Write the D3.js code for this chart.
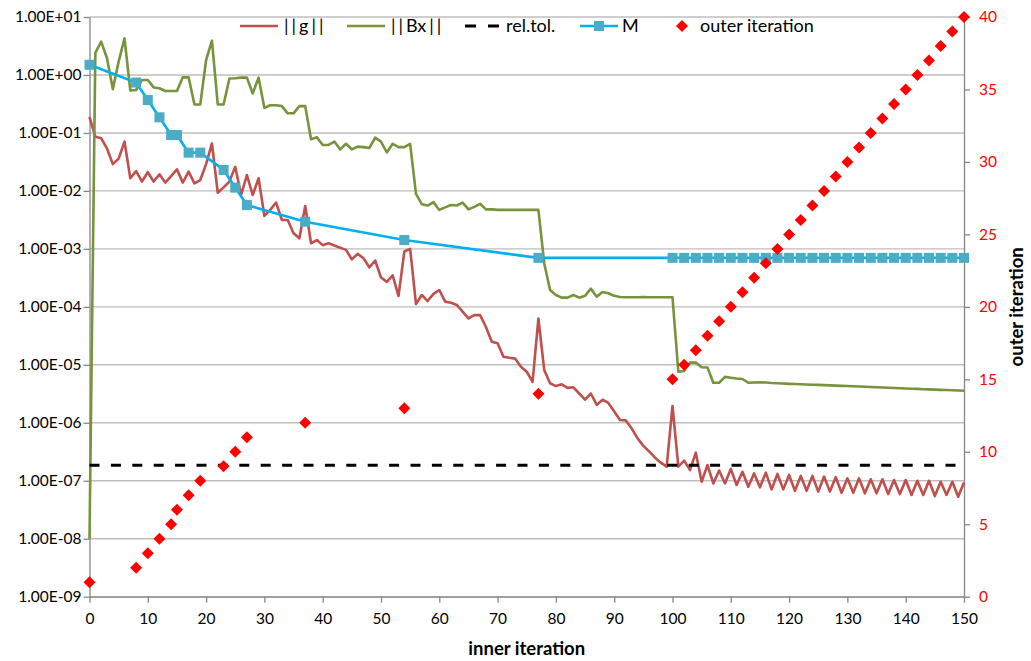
<!DOCTYPE html>
<html>
<head>
<meta charset="utf-8">
<script src="https://cdn.jsdelivr.net/npm/d3@7/dist/d3.min.js"></script>
<style>
  body { margin: 0; background: #fff; }
  svg text { font-family: Lato, "Open Sans", sans-serif; }
</style>
</head>
<body>
<div id="chart"></div>
<script>
// ||g|| per inner iteration 0..150
const gNorm = [
  0.19, 0.086, 0.081, 0.054, 0.029, 0.036, 0.071, 0.0165, 0.022, 0.0145,
  0.021, 0.0145, 0.0193, 0.0139, 0.018, 0.0236, 0.0139, 0.0215, 0.0135, 0.0154,
  0.029, 0.066, 0.0093, 0.0115, 0.0145, 0.026, 0.0085, 0.0188, 0.0085, 0.0165,
  0.0037, 0.0047, 0.0063, 0.00315, 0.00315, 0.00186, 0.00152, 0.0055, 0.00125, 0.00142,
  0.00116, 0.00125, 0.00114, 0.00105, 0.00096, 0.00066, 0.00082, 0.00069, 0.00048, 0.00063,
  0.00032, 0.00027, 0.00035, 0.000154, 0.0009, 0.001, 0.000112, 0.00016, 0.000126, 0.000167,
  0.000195, 0.000123, 0.000118, 0.000108, 8.3e-5, 6.3e-5, 7.2e-5, 7.2e-5, 4.5e-5, 2.5e-5,
  2.35e-5, 1.38e-5, 1.32e-5, 1.28e-5, 9.3e-6, 7.6e-6, 5.1e-6, 6.3e-5, 8.1e-6, 4.8e-6,
  4.3e-6, 4.6e-6, 4.0e-6, 4.1e-6, 3.2e-6, 2.5e-6, 3.2e-6, 2.03e-6, 2.5e-6, 2.2e-6,
  1.56e-6, 1.12e-6, 1.1e-6, 8e-7, 5.4e-7, 4e-7, 3.2e-7, 2.5e-7, 2.05e-7, 1.75e-7,
  1.95e-6, 1.75e-7, 2.22e-7, 1.53e-7, 3.05e-7, 9.6e-8, 1.87e-7, 9.0e-8, 1.5e-7, 9.0e-8,
  1.6e-7, 8.45e-8, 1.43e-7, 7.9e-8, 1.34e-7, 7.7e-8, 1.38e-7, 7.1e-8, 1.31e-7, 7.1e-8,
  1.26e-7, 6.7e-8, 1.21e-7, 6.7e-8, 1.21e-7, 6.5e-8, 1.18e-7, 6.5e-8, 1.15e-7, 6.2e-8,
  1.1e-7, 6.2e-8, 1.1e-7, 6.07e-8, 1.06e-7, 6.07e-8, 1.06e-7, 5.9e-8, 1.03e-7, 5.9e-8,
  1.03e-7, 5.7e-8, 1.0e-7, 5.7e-8, 1.0e-7, 5.45e-8, 9.6e-8, 5.7e-8, 9.6e-8, 5.3e-8,
  9.3e-8
]

// ||Bx|| per inner iteration 0..150
const bxNorm = [
  1e-8, 2.4, 3.75, 1.94, 0.57, 1.7, 4.3, 0.54, 0.55, 0.82,
  0.82, 0.61, 0.59, 0.53, 0.53, 0.53, 0.91, 0.91, 0.31, 0.31,
  1.81, 3.9, 0.31, 0.31, 0.87, 0.88, 0.9, 0.9, 0.48, 0.9,
  0.27, 0.3, 0.3, 0.29, 0.218, 0.218, 0.29, 0.29, 0.078, 0.084,
  0.062, 0.062, 0.071, 0.052, 0.065, 0.052, 0.058, 0.057, 0.055, 0.083,
  0.071, 0.046, 0.065, 0.057, 0.057, 0.065, 0.0089, 0.0059, 0.0056, 0.0064,
  0.0047, 0.0052, 0.0057, 0.0056, 0.0063, 0.0048, 0.0053, 0.006, 0.0048, 0.0048,
  0.0047, 0.0047, 0.0047, 0.0047, 0.0047, 0.0047, 0.0047, 0.0047, 0.00056, 0.000195,
  0.00016, 0.000144, 0.000144, 0.00016, 0.000144, 0.000155, 0.000206, 0.00015, 0.00018, 0.000172,
  0.000155, 0.000148, 0.000146, 0.000146, 0.000146, 0.000147, 0.000146, 0.000146, 0.000146, 0.000146,
  0.000146, 7.6e-6, 7.8e-6, 1.09e-5, 1.09e-5, 9.1e-6, 9.0e-6, 4.9e-6, 4.9e-6, 6.2e-6,
  6.0e-6, 5.8e-6, 5.7e-6, 4.9e-6, 4.95e-6, 5.0e-6, 4.95e-6, 4.85e-6, 4.8e-6, 4.75e-6,
  4.7e-6, 4.66e-6, 4.62e-6, 4.58e-6, 4.54e-6, 4.5e-6, 4.46e-6, 4.42e-6, 4.38e-6, 4.34e-6,
  4.3e-6, 4.26e-6, 4.22e-6, 4.18e-6, 4.14e-6, 4.1e-6, 4.06e-6, 4.02e-6, 3.98e-6, 3.95e-6,
  3.91e-6, 3.87e-6, 3.84e-6, 3.8e-6, 3.77e-6, 3.73e-6, 3.7e-6, 3.67e-6, 3.64e-6, 3.6e-6,
  3.57e-6
]

const relTol = 1.85e-7

// inner iteration at which each outer iteration starts
const outerX = [0, 8, 10, 12, 14, 15, 17, 19, 23, 25, 27, 37, 54, 77, 100,
  102, 104, 106, 108, 110, 112, 114, 116, 118, 120, 122, 124, 126, 128, 130,
  132, 134, 136, 138, 140, 142, 144, 146, 148, 150]
const outerIter = [1, 2, 3, 4, 5, 6, 7, 8, 9, 10, 11, 12, 13, 14, 15, 16, 17, 18, 19, 20,
  21, 22, 23, 24, 25, 26, 27, 28, 29, 30, 31, 32, 33, 34, 35, 36, 37, 38, 39, 40]
const mValues = [1.5, 0.74, 0.37, 0.186, 0.092, 0.092, 0.0457, 0.0457, 0.023, 0.0114,
  0.0057, 0.00294, 0.00142, 0.0007, 0.0007, 0.0007, 0.0007, 0.0007, 0.0007, 0.0007,
  0.0007, 0.0007, 0.0007, 0.0007, 0.0007, 0.0007, 0.0007, 0.0007, 0.0007, 0.0007,
  0.0007, 0.0007, 0.0007, 0.0007, 0.0007, 0.0007, 0.0007, 0.0007, 0.0007, 0.0007]

const logTicks = [1e-9, 1e-8, 1e-7, 1e-6, 1e-5, 1e-4, 1e-3, 1e-2, 1e-1, 1e0, 1e1]
const rightTicks = [0, 5, 10, 15, 20, 25, 30, 35, 40]
const xTicks = [0, 10, 20, 30, 40, 50, 60, 70, 80, 90, 100, 110, 120, 130, 140, 150]

// layout
const width = 1031, height = 661
const plotL = 89.5, plotR = 964, plotT = 17, plotB = 596.7

const x = d3.scaleLinear().domain([0, 150]).range([plotL, plotR])
const y = d3.scaleLog().domain([1e-9, 1e1]).range([plotB, plotT])
const y2 = d3.scaleLinear().domain([0, 40]).range([plotB, plotT])

const axisGrey = '#868686'
const fmtExp = d => {
  const e = Math.round(Math.log10(d))
  return '1.00E' + (e < 0 ? '-' : '+') + String(Math.abs(e)).padStart(2, '0')
}

const svg = d3.select('#chart').append('svg')
  .attr('width', width)
  .attr('height', height)

// gridlines
svg.append('g').attr('class', 'grid')
  .selectAll('line')
  .data(logTicks).enter()
  .append('line')
  .attr('x1', plotL).attr('x2', plotR)
  .attr('y1', d => y(d)).attr('y2', d => y(d))
  .attr('stroke', '#bebebe')
  .attr('stroke-width', 1.4)

// axes
const styleAxis = (g, color) => {
  g.select('.domain').attr('stroke', axisGrey).attr('stroke-width', 1.3)
  g.selectAll('.tick line').attr('stroke', axisGrey).attr('stroke-width', 1.3)
  g.selectAll('.tick text').attr('fill', color).style('font-size', '15.5px')
}

svg.append('g')
  .attr('transform', `translate(${plotL},0)`)
  .call(d3.axisLeft(y).tickValues(logTicks).tickFormat(fmtExp).tickSize(6).tickSizeOuter(0).tickPadding(2))
  .call(g => styleAxis(g, '#000'))

svg.append('g')
  .attr('transform', `translate(${plotR},0)`)
  .call(d3.axisRight(y2).tickValues(rightTicks).tickSize(6).tickSizeOuter(0).tickPadding(9))
  .call(g => styleAxis(g, '#ff0000'))

svg.append('g')
  .attr('transform', `translate(0,${plotB})`)
  .call(d3.axisBottom(x).tickValues(xTicks).tickSize(6).tickSizeOuter(0).tickPadding(10))
  .call(g => styleAxis(g, '#000'))

// axis titles
svg.append('text')
  .attr('x', (plotL + plotR) / 2).attr('y', 655)
  .attr('text-anchor', 'middle')
  .style('font-size', '18.5px').style('font-weight', 'bold')
  .text('inner iteration')

svg.append('text')
  .attr('transform', `translate(1023,${(plotT + plotB) / 2}) rotate(-90)`)
  .attr('text-anchor', 'middle')
  .style('font-size', '18.5px').style('font-weight', 'bold')
  .text('outer iteration')

// series
const line = d3.line().x((d, i) => x(i)).y(d => y(d))

svg.append('path')
  .datum(gNorm)
  .attr('d', line)
  .attr('fill', 'none')
  .attr('stroke', '#c0504d')
  .attr('stroke-width', 2.6)
  .attr('stroke-linejoin', 'round')

svg.append('path')
  .datum(bxNorm)
  .attr('d', line)
  .attr('fill', 'none')
  .attr('stroke', '#77933c')
  .attr('stroke-width', 2.6)
  .attr('stroke-linejoin', 'round')

svg.append('line')
  .attr('x1', x(0)).attr('x2', x(150))
  .attr('y1', y(relTol)).attr('y2', y(relTol))
  .attr('stroke', '#000')
  .attr('stroke-width', 3.2)
  .attr('stroke-dasharray', '10,11.4')

const mPts = outerX.map((d, i) => [d, mValues[i]])
svg.append('path')
  .datum(mPts)
  .attr('d', d3.line().x(d => x(d[0])).y(d => y(d[1])))
  .attr('fill', 'none')
  .attr('stroke', '#00b0f0')
  .attr('stroke-width', 2.6)

svg.append('g').selectAll('rect')
  .data(mPts).enter()
  .append('rect')
  .attr('x', d => x(d[0]) - 5)
  .attr('y', d => y(d[1]) - 5)
  .attr('width', 10).attr('height', 10)
  .attr('fill', '#4bacc6')

const diamond = d3.symbol().type(d3.symbolSquare).size(72)
svg.append('g').selectAll('path')
  .data(outerX.map((d, i) => [d, outerIter[i]])).enter()
  .append('path')
  .attr('d', diamond)
  .attr('transform', d => `translate(${x(d[0])},${y2(d[1])}) rotate(45)`)
  .attr('fill', '#ff0000')

// legend
const legend = svg.append('g').attr('class', 'legend')
const legendY = 26
const addText = (tx, label) => legend.append('text')
  .attr('x', tx).attr('y', legendY + 6)
  .attr('fill', '#000')
  .style('font-size', '18px')
  .text(label)
// norm labels: the bars sit wider apart than the letters
const addNorm = (tx, inner) => {
  const t = legend.append('text')
    .attr('x', tx).attr('y', legendY + 6)
    .attr('fill', '#000')
    .style('font-size', '18px')
  t.append('tspan').style('letter-spacing', '3px').text('||')
  t.append('tspan').text(inner)
  t.append('tspan').attr('dx', 3).style('letter-spacing', '3px').text('||')
}

legend.append('line').attr('x1', 240).attr('x2', 278).attr('y1', legendY).attr('y2', legendY)
  .attr('stroke', '#c0504d').attr('stroke-width', 2.6)
addNorm(284, 'g')

legend.append('line').attr('x1', 347).attr('x2', 385).attr('y1', legendY).attr('y2', legendY)
  .attr('stroke', '#77933c').attr('stroke-width', 2.6)
addNorm(391, 'Bx')

legend.append('line').attr('x1', 465).attr('x2', 499).attr('y1', legendY).attr('y2', legendY)
  .attr('stroke', '#000').attr('stroke-width', 3.2).attr('stroke-dasharray', '11,12')
addText(506, 'rel.tol.')

legend.append('line').attr('x1', 580).attr('x2', 618).attr('y1', legendY).attr('y2', legendY)
  .attr('stroke', '#00b0f0').attr('stroke-width', 2.6)
legend.append('rect').attr('x', 594).attr('y', legendY - 5).attr('width', 10).attr('height', 10)
  .attr('fill', '#4bacc6')
addText(622, 'M')

legend.append('path').attr('d', diamond)
  .attr('transform', `translate(682,${legendY}) rotate(45)`)
  .attr('fill', '#ff0000')
addText(700, 'outer iteration')
</script>
</body>
</html>
